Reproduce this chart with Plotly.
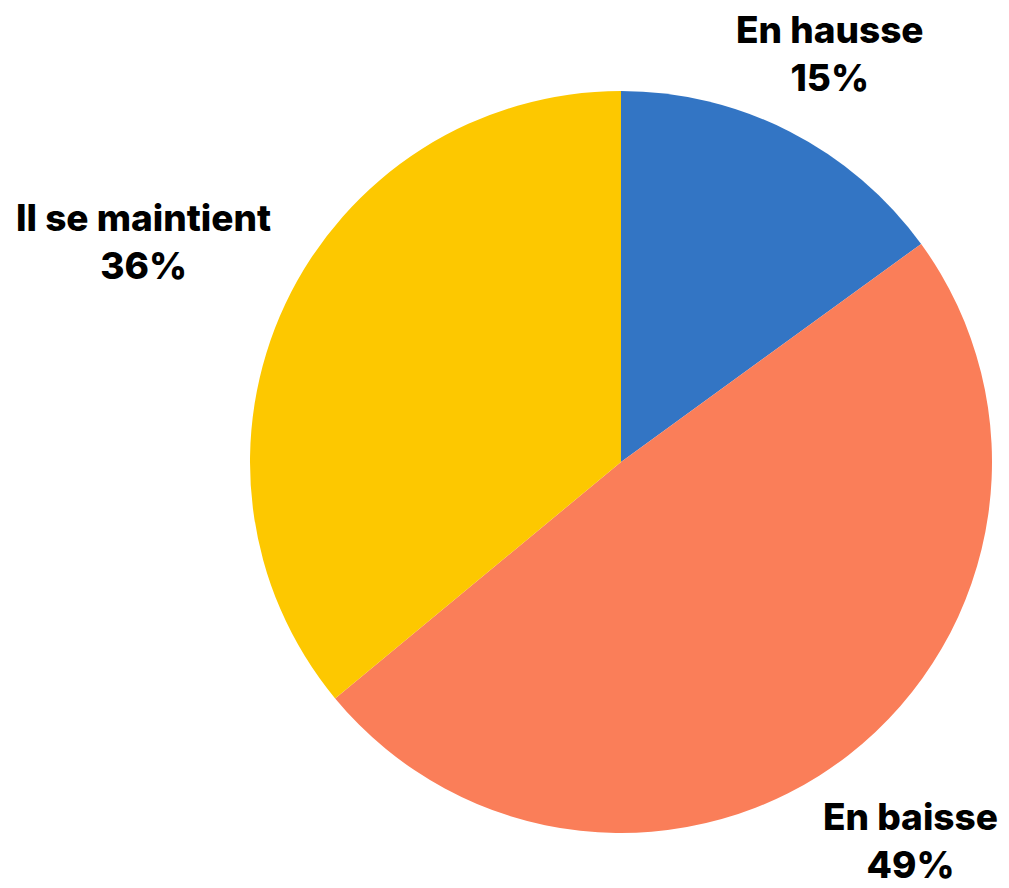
import plotly.graph_objects as go

labels = ["En hausse", "En baisse", "Il se maintient"]
values = [15, 49, 36]
colors = ["#3375C4", "#FA7E59", "#FDC800"]

# label anchor positions (paper coords, layout only)
label_pos = [(0.8226, 0.940), (0.9019, 0.053), (0.1422, 0.728)]

fig = go.Figure(go.Pie(
    labels=labels, values=values, sort=False, direction="clockwise", rotation=0,
    marker=dict(colors=colors, line=dict(width=0)),
    textinfo="none", hoverinfo="label+percent",
    domain=dict(x=[(621 - 371) / 1009, (621 + 371) / 1009], y=[(888 - 833) / 888, (888 - 91) / 888]),
    showlegend=False,
))

total = sum(values)
for lab, val, (x, y) in zip(labels, values, label_pos):
    fig.add_annotation(
        x=x, y=y, xref="paper", yref="paper", xanchor="center", yanchor="middle",
        text=f"{lab}<br>{round(val / total * 100)}%", showarrow=False,
        font=dict(family="Inter", size=37, color="#000000", weight=800),
        align="center",
    )

fig.update_layout(width=1009, height=888, margin=dict(l=0, r=0, t=0, b=0),
                  paper_bgcolor="white", plot_bgcolor="white")
fig.write_html("out.html")
